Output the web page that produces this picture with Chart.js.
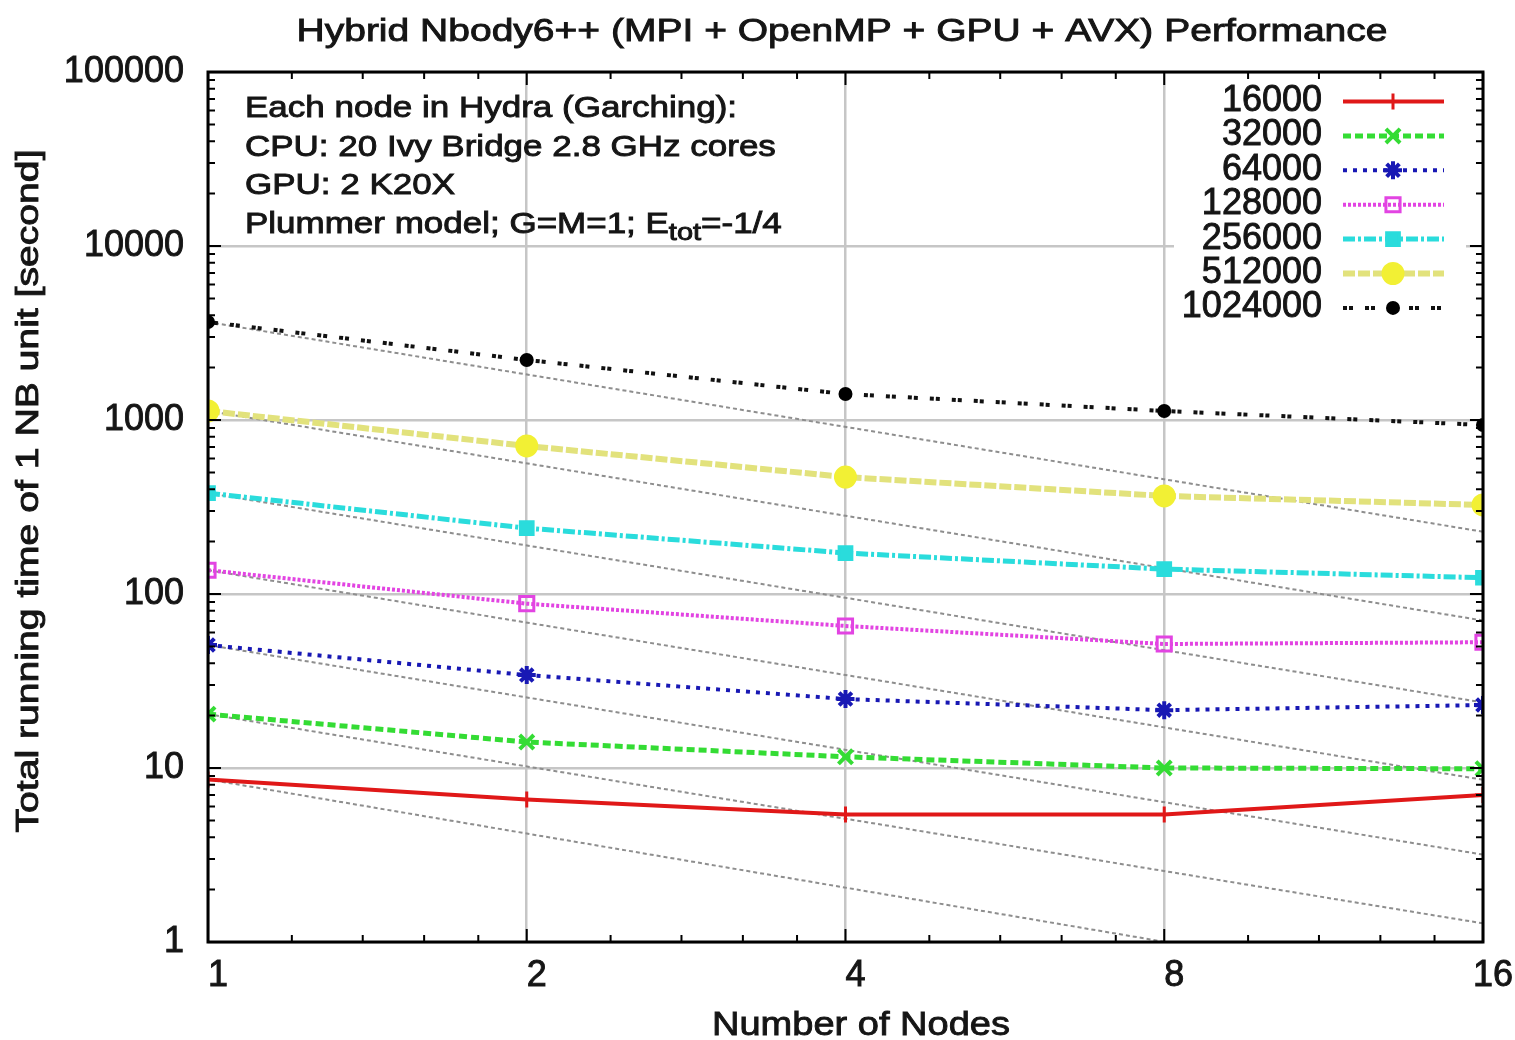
<!DOCTYPE html>
<html>
<head>
<meta charset="utf-8">
<title>Hybrid Nbody6++ Performance</title>
<script src="https://cdn.jsdelivr.net/npm/chart.js@4/dist/chart.umd.min.js"></script>
<style>
  html, body { margin: 0; padding: 0; background: #fff; }
  #wrap { width: 1515px; height: 1040px; }
</style>
</head>
<body>
<div id="wrap"><canvas id="chart" width="1515" height="1040"></canvas></div>
<script>
// ---- data ----
const nodes = [1, 2, 4, 8, 16];
const particleCounts = ['16000', '32000', '64000', '128000', '256000', '512000', '1024000'];
const time16k   = [8.6, 6.6, 5.4, 5.4, 7.0];
const time32k   = [20.4, 14.1, 11.6, 10.0, 9.9];
const time64k   = [50.9, 34.2, 24.9, 21.5, 23.0];
const time128k  = [137, 88, 65.5, 51.6, 52.8];
const time256k  = [380, 239, 172, 139, 124];
const time512k  = [1127, 709, 470, 366, 325];
const time1024k = [3656, 2213, 1410, 1127, 936];
// ideal linear-speedup guide lines: time on 1 node and time at 16 nodes
const idealAt1  = [8.6, 20.4, 50.9, 137, 380, 1127, 3656];
const idealAt16 = [0.49, 1.28, 3.18, 8.56, 23.8, 70.4, 228];
const xTicks = [1, 2, 4, 8, 16];
const yTicks = [1, 10, 100, 1000, 10000, 100000];

const allTimes = [time16k, time32k, time64k, time128k, time256k, time512k, time1024k];

// ---- styles ----
const FONT = "'Liberation Sans', Arial, Helvetica, sans-serif";
const INK = '#151515';
const styles = [
  { color: '#e01818', width: 4, dash: [],            point: 'cross',    radius: 8,   bw: 3, fill: '#e01818' },
  { color: '#34dc34', width: 5, dash: [8, 4],        point: 'crossRot', radius: 10,  bw: 4, fill: '#34dc34' },
  { color: '#1818b4', width: 4, dash: [4, 6],        point: 'star',     radius: 9,   bw: 4, fill: '#1818b4' },
  { color: '#e244e2', width: 4, dash: [3, 2],        point: 'rect',     radius: 10,  bw: 3, fill: 'rgba(255,255,255,0)' },
  { color: '#2adcdc', width: 5, dash: [12, 3, 3, 3], point: 'rect',     radius: 9,   bw: 3, fill: '#2adcdc' },
  { color: '#e2e27c', width: 6, dash: [12, 3],       point: 'circle',   radius: 10,  bw: 3, fill: '#f2f034', edge: '#f2f034' },
  { color: '#111111', width: 4, dash: [4, 2, 4, 12], point: 'circle',   radius: 6,   bw: 2, fill: '#000000', edge: '#000000' }
];

const idealDatasets = idealAt1.map((v, k) => ({
  label: 'ideal ' + particleCounts[k],
  data: [{ x: nodes[0], y: v }, { x: nodes[nodes.length - 1], y: idealAt16[k] }],
  borderColor: '#8e8e8e',
  borderWidth: 2,
  borderDash: [4, 3],
  pointRadius: 0,
  tension: 0,
  order: 10
}));

const seriesDatasets = allTimes.map((arr, k) => {
  const s = styles[k];
  return {
    label: particleCounts[k],
    data: nodes.map((n, i) => ({ x: n, y: arr[i] })),
    borderColor: s.color,
    borderWidth: s.width,
    borderDash: s.dash,
    borderCapStyle: 'butt',
    pointStyle: s.point,
    pointRadius: s.radius,
    pointBorderWidth: s.bw,
    pointBorderColor: s.edge || s.color,
    pointBackgroundColor: s.fill,
    tension: 0,
    order: 0
  };
});

// ---- helpers ----
function stretchedText(ctx, text, x, y, size, sx, align) {
  ctx.save();
  ctx.font = size + 'px ' + FONT;
  const w = ctx.measureText(text).width * sx;
  const left = align === 'center' ? x - w / 2 : x;
  ctx.translate(left, y);
  ctx.scale(sx, 1);
  ctx.textAlign = 'left';
  ctx.textBaseline = 'alphabetic';
  ctx.lineWidth = 0.9;
  ctx.strokeStyle = INK;
  ctx.fillText(text, 0, 0);
  ctx.strokeText(text, 0, 0);
  ctx.restore();
  return w;
}
function textWidth(ctx, text, size) {
  ctx.save();
  ctx.font = size + 'px ' + FONT;
  const w = ctx.measureText(text).width;
  ctx.restore();
  return w;
}
function marker(ctx, s, x, y) {
  ctx.save();
  ctx.setLineDash([]);
  ctx.lineWidth = s.bw;
  ctx.strokeStyle = s.edge || s.color;
  ctx.fillStyle = s.fill;
  Chart.helpers.drawPoint(ctx, { pointStyle: s.point, radius: s.radius, rotation: 0, borderWidth: s.bw }, x, y);
  ctx.restore();
}

// frame, inward tick marks, key and text labels in gnuplot style
const gnuplotDecor = {
  id: 'gnuplotDecor',
  afterDatasetsDraw(chart) {
    const ctx = chart.ctx;
    const a = chart.chartArea;
    const xs = chart.scales.x, ys = chart.scales.y;

    // key (opaque)
    ctx.save();
    ctx.fillStyle = '#ffffff';
    ctx.fillRect(1174, 79, 292, 244);
    ctx.fillStyle = INK;
    ctx.strokeStyle = INK;
    ctx.lineWidth = 0.9;
    ctx.font = '36px ' + FONT;
    ctx.textAlign = 'right';
    ctx.textBaseline = 'alphabetic';
    particleCounts.forEach((lab, k) => {
      const yy = 101.5 + k * 34.4;
      ctx.fillText(lab, 1322, yy + 9.5);
      ctx.strokeText(lab, 1322, yy + 9.5);
      const s = styles[k];
      ctx.save();
      ctx.strokeStyle = s.color;
      ctx.lineWidth = s.width;
      ctx.setLineDash(s.dash);
      ctx.beginPath();
      ctx.moveTo(1343, yy);
      ctx.lineTo(1444, yy);
      ctx.stroke();
      ctx.restore();
      marker(ctx, s, 1393, yy);
    });
    ctx.restore();

    // frame
    ctx.save();
    ctx.strokeStyle = '#000';
    ctx.lineWidth = 3;
    ctx.setLineDash([]);
    ctx.strokeRect(a.left, a.top, a.right - a.left, a.bottom - a.top);

    // y ticks (log, minor 2..9)
    ctx.lineWidth = 2;
    ctx.beginPath();
    for (let d = 0; d < yTicks.length; d++) {
      const base = yTicks[d];
      const py = ys.getPixelForValue(base);
      ctx.moveTo(a.left, py); ctx.lineTo(a.left + 13, py);
      ctx.moveTo(a.right, py); ctx.lineTo(a.right - 13, py);
      if (d < yTicks.length - 1) {
        for (let m = 2; m <= 9; m++) {
          const p = ys.getPixelForValue(base * m);
          ctx.moveTo(a.left, p); ctx.lineTo(a.left + 7, p);
          ctx.moveTo(a.right, p); ctx.lineTo(a.right - 7, p);
        }
      }
    }
    // x ticks (base 2, five linear subdivisions per octave)
    for (let i = 0; i < xTicks.length; i++) {
      const v = xTicks[i];
      const px = xs.getPixelForValue(v);
      ctx.moveTo(px, a.bottom); ctx.lineTo(px, a.bottom - 13);
      ctx.moveTo(px, a.top); ctx.lineTo(px, a.top + 13);
      if (i < xTicks.length - 1) {
        for (let m = 1; m <= 4; m++) {
          const p = xs.getPixelForValue(v * (1 + m * 0.2));
          ctx.moveTo(p, a.bottom); ctx.lineTo(p, a.bottom - 7);
          ctx.moveTo(p, a.top); ctx.lineTo(p, a.top + 7);
        }
      }
    }
    ctx.stroke();
    ctx.restore();
  },
  afterDraw(chart) {
    const ctx = chart.ctx;
    ctx.save();
    ctx.fillStyle = INK;

    // title
    const title = 'Hybrid Nbody6++ (MPI + OpenMP + GPU + AVX) Performance';
    const tSx = 1091 / textWidth(ctx, title, 32);
    stretchedText(ctx, title, 842, 41, 32, tSx, 'center');

    // axis titles
    const xt = 'Number of Nodes';
    stretchedText(ctx, xt, 861, 1035, 34, 298 / textWidth(ctx, xt, 34), 'center');

    const yt = 'Total running time of 1 NB unit [second]';
    ctx.save();
    ctx.translate(38, 491);
    ctx.rotate(-Math.PI / 2);
    stretchedText(ctx, yt, 0, 0, 31, 683 / textWidth(ctx, yt, 31), 'center');
    ctx.restore();

    // machine description
    const lines = [
      'Each node in Hydra (Garching):',
      'CPU: 20 Ivy Bridge 2.8 GHz cores',
      'GPU: 2 K20X'
    ];
    const fs = 29;
    const sx = 492 / textWidth(ctx, lines[0], fs);
    lines.forEach((t, i) => stretchedText(ctx, t, 245, 117 + i * 38.5, fs, sx, 'left'));
    const y4 = 117 + 3 * 38.5;
    let x = 245;
    x += stretchedText(ctx, 'Plummer model; G=M=1; E', x, y4, fs, sx, 'left');
    x += stretchedText(ctx, 'tot', x, y4 + 7, 24, sx, 'left');
    stretchedText(ctx, '=-1/4', x, y4, fs, sx, 'left');
    ctx.restore();
  }
};

const tickFont = { family: FONT, size: 36 };

new Chart(document.getElementById('chart'), {
  type: 'line',
  data: { datasets: [...idealDatasets, ...seriesDatasets] },
  options: {
    responsive: false,
    animation: false,
    events: [],
    layout: { padding: { left: 0, right: 31, top: 72, bottom: 0 } },
    plugins: {
      legend: { display: false },
      title: { display: false },
      tooltip: { enabled: false }
    },
    scales: {
      x: {
        type: 'logarithmic',
        min: 1,
        max: 16,
        afterBuildTicks: s => { s.ticks = xTicks.map(v => ({ value: v })); },
        afterFit: s => { s.height = 98; },
        ticks: {
          callback: v => String(v),
          font: tickFont,
          color: INK,
          textStrokeColor: INK,
          textStrokeWidth: 0.9,
          padding: 12,
          labelOffset: 10,
          maxRotation: 0,
          autoSkip: false
        },
        grid: { color: '#c6c6c6', lineWidth: 2.5, drawTicks: false },
        border: { display: false }
      },
      y: {
        type: 'logarithmic',
        min: 1,
        max: 100000,
        afterBuildTicks: s => { s.ticks = yTicks.map(v => ({ value: v })); },
        afterFit: s => { s.width = 208; },
        ticks: {
          callback: v => String(v),
          font: tickFont,
          color: INK,
          textStrokeColor: INK,
          textStrokeWidth: 0.9,
          padding: 24,
          autoSkip: false
        },
        grid: { color: '#c6c6c6', lineWidth: 2.5, drawTicks: false },
        border: { display: false }
      }
    }
  },
  plugins: [gnuplotDecor]
});
</script>
</body>
</html>
